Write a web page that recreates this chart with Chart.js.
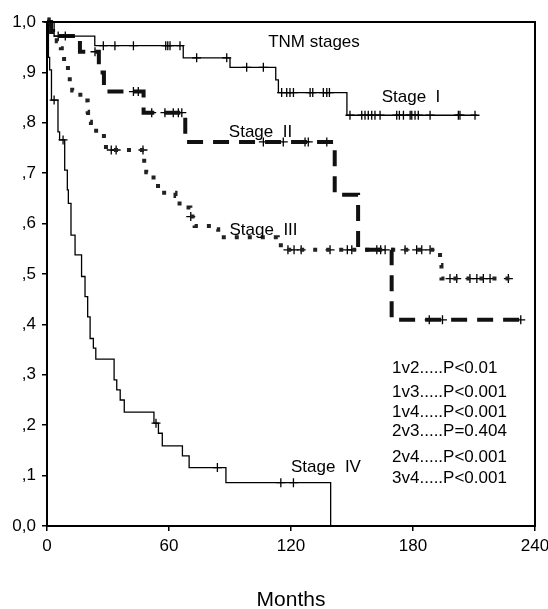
<!DOCTYPE html>
<html>
<head>
<meta charset="utf-8">
<script src="https://cdn.jsdelivr.net/npm/chart.js"></script>
<style>
  html, body { margin: 0; padding: 0; background: #fff; }
  #wrap { width: 548px; height: 609px; }
</style>
</head>
<body>
<div id="wrap"><canvas id="chartKM" width="548" height="609"></canvas></div>
<script>
// step points (month, survival)
var stage1Months = [0, 3.5, 23.5, 67, 90, 112.5, 113.8, 147.5, 211.4];
var stage1Surv   = [1, 0.972, 0.953, 0.929, 0.910, 0.885, 0.860, 0.815, 0.815];
var stage1Censor = [1, 5.5, 9, 27.7, 33.4, 42.5, 58.4, 59.4, 60.5, 65.4, 73.6, 88.4, 98.2, 106.4,
                    115.4, 117.9, 119.5, 121.2, 129.4, 130.7, 135.9, 137.6, 138.9,
                    149, 154.8, 156.4, 158, 159.7, 161.3, 163.8, 172, 173.3, 175.3, 178.6,
                    179.4, 181, 182.6, 188.4, 202.3, 203.1, 210.5];

var stage2Months = [0, 2, 16.2, 25.5, 28, 47.5, 68, 141.5, 153, 169.5, 234];
var stage2Surv   = [1, 0.972, 0.941, 0.900, 0.862, 0.820, 0.762, 0.657, 0.548, 0.409, 0.409];
var stage2Censor = [1.5, 23.6, 42.5, 44.9, 51.5, 58, 62.1, 64.6, 66.3, 106.4, 116.2, 126.9,
                    128.5, 137.6, 188, 194.5, 233];

var stage3Months = [0, 1.5, 3, 4.8, 6.8, 8.4, 10.3, 11.2, 12.4, 16.4, 20, 20.2, 21.6, 28, 29,
                    47.8, 48.8, 52.4, 54.6, 63.2, 63.8, 68.5, 70.5, 72.6, 82.4, 84.2, 113.5,
                    115, 193.3, 194, 228.7];
var stage3Surv   = [1, 0.99, 0.98, 0.962, 0.948, 0.921, 0.901, 0.882, 0.864, 0.844, 0.822, 0.802,
                    0.784, 0.762, 0.746, 0.718, 0.702, 0.680, 0.661, 0.655, 0.640, 0.632, 0.614,
                    0.595, 0.589, 0.573, 0.564, 0.548, 0.518, 0.491, 0.491];
var stage3Censor = [0.5, 31.6, 34, 47.2, 70.7, 118.5, 121.5, 125, 139.2, 147.7, 149.9, 162.2,
                    164.1, 166.3, 176.1, 181.8, 184.3, 188.4, 198.2, 201.5, 208, 211.4, 214.6,
                    217.9, 226.9];

var stage4Months = [0, 0.7, 1.3, 2.2, 5.4, 6.2, 8.7, 10, 10.5, 11.8, 13.8, 17, 18.7, 20, 21.2,
                    22.8, 24, 33, 34.3, 36, 38, 52.6, 54.8, 56.7, 66.6, 69.9, 88, 139.5];
var stage4Surv   = [1, 0.93, 0.905, 0.845, 0.782, 0.766, 0.706, 0.667, 0.640, 0.577, 0.538,
                    0.495, 0.455, 0.415, 0.372, 0.353, 0.331, 0.290, 0.270, 0.250, 0.226,
                    0.204, 0.184, 0.159, 0.139, 0.116, 0.086, 0];
var stage4Censor = [3.5, 7.9, 53.6, 83.8, 115, 121.2];

var xTicks = [0, 60, 120, 180, 240];
var yTickLabels = ['0,0', ',1', ',2', ',3', ',4', ',5', ',6', ',7', ',8', ',9', '1,0'];

var curveLabels = [
    { text: 'TNM stages', x: 131.3, y: 0.96 },
    { text: 'Stage  I', x: 179, y: 0.851 },
    { text: 'Stage  II', x: 105, y: 0.782 },
    { text: 'Stage  III', x: 106.5, y: 0.587 },
    { text: 'Stage  IV', x: 137.2, y: 0.117 }
];
var pTexts = ['1v2.....P<0.01', '1v3.....P<0.001', '1v4.....P<0.001',
              '2v3.....P=0.404', '2v4.....P<0.001', '3v4.....P<0.001'];
var pY = [0.313, 0.266, 0.226, 0.187, 0.137, 0.095];
var pX = 169.7;

var FONT = "Arial, 'Liberation Sans', sans-serif";

function toPoints(months, surv) {
    var pts = [];
    for (var i = 0; i < months.length; i++) pts.push({ x: months[i], y: surv[i] });
    return pts;
}

// survival level of a curve at time t (for placing censor marks on it)
function censorPoints(months, surv, censor) {
    var pts = [];
    for (var c = 0; c < censor.length; c++) {
        var v = surv[0];
        for (var i = 0; i < months.length; i++) {
            if (months[i] <= censor[c]) v = surv[i];
        }
        pts.push({ x: censor[c], y: v });
    }
    return pts;
}

function stepSet(label, pts, width, dash, color) {
    return {
        label: label, data: pts, stepped: 'before',
        borderColor: color, borderWidth: width, borderDash: dash,
        borderCapStyle: 'butt', pointRadius: 0, fill: false, clip: 2
    };
}

function censorSet(label, pts) {
    return {
        label: label, data: pts, showLine: false,
        pointStyle: 'cross', pointRadius: 4.5, pointBorderWidth: 1.3,
        pointBorderColor: '#000', pointBackgroundColor: '#000', clip: false
    };
}

var textPlugin = {
    id: 'kmText',
    afterDatasetsDraw: function(chart) {
        var ctx = chart.ctx, xs = chart.scales.x, ys = chart.scales.y, a = chart.chartArea;
        ctx.save();
        ctx.strokeStyle = '#000';
        ctx.lineWidth = 2;
        ctx.strokeRect(a.left, a.top, a.right - a.left, a.bottom - a.top);
        ctx.fillStyle = '#000';
        ctx.font = '17px ' + FONT;
        ctx.textBaseline = 'middle';
        ctx.textAlign = 'center';
        curveLabels.forEach(function(l) {
            ctx.fillText(l.text, xs.getPixelForValue(l.x), ys.getPixelForValue(l.y));
        });
        ctx.textAlign = 'left';
        pTexts.forEach(function(t, i) {
            ctx.fillText(t, xs.getPixelForValue(pX), ys.getPixelForValue(pY[i]));
        });
        ctx.restore();
    }
};

var ctx = document.getElementById('chartKM');
var kmChart = new Chart(ctx, {
    type: 'line',
    data: {
        datasets: [
            stepSet('Stage I', toPoints(stage1Months, stage1Surv), 1.3, [], '#000'),
            stepSet('Stage II', toPoints(stage2Months, stage2Surv), 4, [16, 10], '#111'),
            stepSet('Stage III', toPoints(stage3Months, stage3Surv), 4, [4, 9], '#222'),
            stepSet('Stage IV', toPoints(stage4Months, stage4Surv), 1.3, [], '#000'),
            censorSet('cens I', censorPoints(stage1Months, stage1Surv, stage1Censor)),
            censorSet('cens II', censorPoints(stage2Months, stage2Surv, stage2Censor)),
            censorSet('cens III', censorPoints(stage3Months, stage3Surv, stage3Censor)),
            censorSet('cens IV', censorPoints(stage4Months, stage4Surv, stage4Censor))
        ]
    },
    options: {
        responsive: false,
        animation: false,
        layout: { padding: { left: 0, right: 13, top: 22, bottom: 0 } },
        plugins: {
            legend: { display: false },
            tooltip: { enabled: false },
            title: { display: false }
        },
        scales: {
            x: {
                type: 'linear', min: 0, max: 240,
                afterBuildTicks: function(scale) {
                    scale.ticks = xTicks.map(function(v) { return { value: v }; });
                },
                afterFit: function(scale) {
                    scale.height = 83;
                    // let the 240 label hang past the plot like in the original
                    scale.paddingLeft = 0;
                    scale.paddingRight = 0;
                },
                grid: { drawOnChartArea: false, drawTicks: true, tickLength: 5, color: '#000', lineWidth: 1.5 },
                border: { display: true, color: '#000', width: 2 },
                ticks: { color: '#000', padding: 5, maxRotation: 0, font: { family: FONT, size: 17 } },
                title: {
                    display: true, text: 'Months', color: '#000',
                    padding: 0, font: { family: FONT, size: 21, lineHeight: 0.85 }
                }
            },
            y: {
                type: 'linear', min: 0, max: 1,
                ticks: {
                    stepSize: 0.1, color: '#000', padding: 6,
                    font: { family: FONT, size: 17 },
                    callback: function(value, index) { return yTickLabels[index]; }
                },
                afterFit: function(scale) { scale.width = 47; },
                grid: { drawOnChartArea: false, drawTicks: true, tickLength: 5, color: '#000', lineWidth: 1.5 },
                border: { display: true, color: '#000', width: 2 }
            }
        }
    },
    plugins: [textPlugin]
});
</script>
</body>
</html>
